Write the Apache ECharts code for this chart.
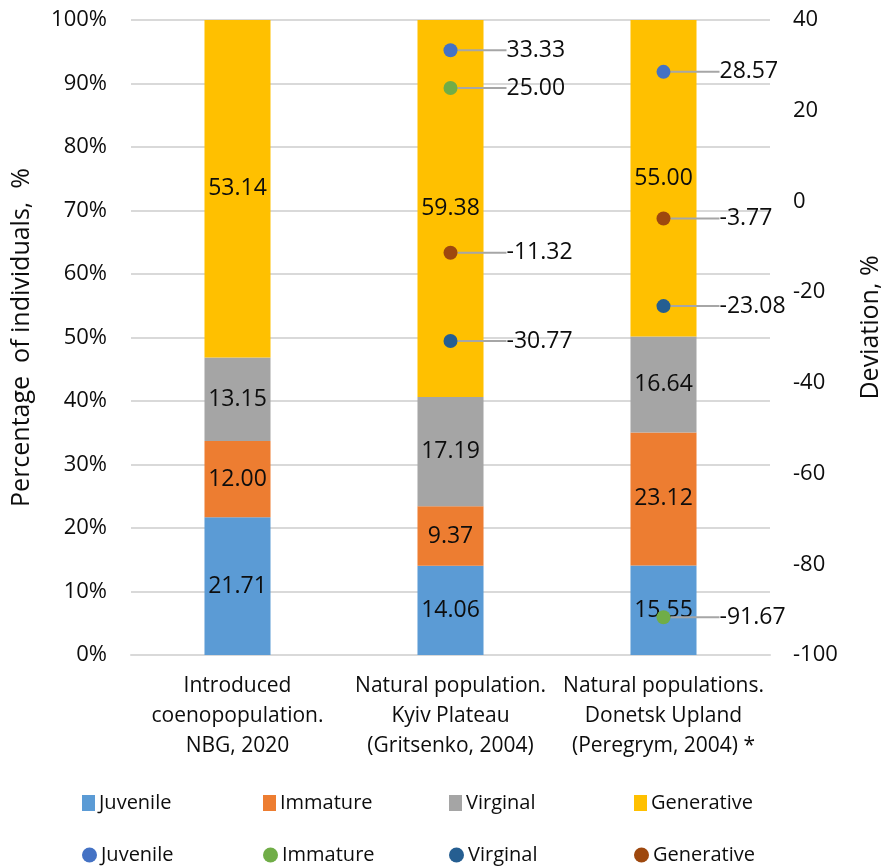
<!DOCTYPE html>
<html>
<head>
<meta charset="utf-8">
<script src="https://cdn.jsdelivr.net/npm/echarts@6/dist/echarts.min.js"></script>
<style>
  html, body { margin: 0; padding: 0; background: #ffffff; }
  #chart { width: 881px; height: 868px; }
</style>
</head>
<body>
<div id="chart"></div>
<script>
// Populations compared
const categories = [
  'Introduced\ncoenopopulation.\nNBG, 2020',
  'Natural population.\nKyiv Plateau\n(Gritsenko, 2004)',
  'Natural populations.\nDonetsk Upland\n(Peregrym, 2004) *'
];

// Age-state shares of individuals (stacked bars, left axis)
const juvenileShare   = [21.71, 14.06, 15.55];
const immatureShare   = [12.00,  9.37, 23.12];
const virginalShare   = [13.15, 17.19, 16.64];
const generativeShare = [53.14, 59.38, 55.00];

// Deviation from the introduced coenopopulation, % (points, right axis)
const juvenileDev   = [null,  33.33,  28.57];
const immatureDev   = [null,  25.00, -91.67];
const virginalDev   = [null, -30.77, -23.08];
const generativeDev = [null, -11.32,  -3.77];

const stateNames = ['Juvenile', 'Immature', 'Virginal', 'Generative'];
const barColors = ['#5B9BD5', '#ED7D31', '#A5A5A5', '#FFC000'];
const dotColors = ['#4472C4', '#70AD47', '#255E91', '#9E480E'];

const shares = [juvenileShare, immatureShare, virginalShare, generativeShare];
const devs = [juvenileDev, immatureDev, virginalDev, generativeDev];

// Each column is drawn as a 100% stack of its four shares
const totals = categories.map((_, i) => shares.reduce((s, arr) => s + arr[i], 0));

const FONT = '"Open Sans", "DejaVu Sans", sans-serif';
const TXT = '#0d0d0d';

const devName = n => n + ' deviation';

const barSeries = shares.map((arr, k) => ({
  name: stateNames[k],
  type: 'bar',
  stack: 'share',
  yAxisIndex: 0,
  barWidth: '31%',
  itemStyle: { color: barColors[k] },
  data: arr.map((v, i) => ({ value: v / totals[i] * 100, raw: v })),
  label: {
    show: true,
    position: 'inside',
    color: TXT,
    fontFamily: FONT,
    fontSize: 23,
    formatter: p => p.data.raw.toFixed(2)
  },
  z: 2
}));

const dotSeries = devs.map((arr, k) => ({
  name: devName(stateNames[k]),
  type: 'scatter',
  yAxisIndex: 1,
  symbol: 'circle',
  symbolSize: 14,
  itemStyle: { color: dotColors[k], opacity: 1 },
  data: arr.map((v, i) => (v === null ? null : [i, v])),
  label: {
    show: true,
    position: 'right',
    distance: 4,
    padding: [0, 0, 0, 6],
    color: TXT,
    fontFamily: FONT,
    fontSize: 23,
    formatter: p => p.value[1].toFixed(2)
  },
  labelLayout: { dx: 39 },
  labelLine: { show: true, lineStyle: { color: '#A6A6A6', width: 2 } },
  z: 5
}));

const legendX = [77, 258, 444, 629];
const legends = [];
stateNames.forEach((n, k) => {
  legends.push({
    data: [n], left: legendX[k], top: 788, itemWidth: 13, itemHeight: 16, itemGap: 0,
    icon: 'rect', selectedMode: false,
    textStyle: { fontFamily: FONT, fontSize: 20, color: TXT, padding: [0, 0, 0, -1] }
  });
  legends.push({
    data: [devName(n)], left: legendX[k], top: 840, itemWidth: 15, itemHeight: 15, itemGap: 0,
    icon: 'circle', selectedMode: false,
    formatter: () => n,
    textStyle: { fontFamily: FONT, fontSize: 20, color: TXT, padding: [0, 0, 0, -1] }
  });
});

const chart = echarts.init(document.getElementById('chart'), null, { renderer: 'canvas' });
chart.setOption({
  backgroundColor: '#ffffff',
  animation: false,
  textStyle: { fontFamily: FONT },
  grid: { left: 131, right: 111, top: 20, bottom: 213, containLabel: false, outerBoundsMode: 'none' },
  legend: legends,
  xAxis: {
    type: 'category',
    data: categories,
    axisTick: { show: false },
    axisLine: { show: true, lineStyle: { color: '#D9D9D9', width: 2 } },
    axisLabel: {
      color: TXT, fontFamily: FONT, fontSize: 21, lineHeight: 30, margin: 16, interval: 0
    }
  },
  yAxis: [
    {
      type: 'value', min: 0, max: 100, interval: 10,
      name: 'Percentage  of individuals,  %',
      nameLocation: 'middle', nameGap: 97,
      nameTextStyle: { color: TXT, fontFamily: FONT, fontSize: 25 },
      axisLine: { show: false }, axisTick: { show: false },
      axisLabel: { color: TXT, fontFamily: FONT, fontSize: 22, margin: 24, formatter: '{value}%' },
      splitLine: { lineStyle: { color: '#D9D9D9', width: 2 } }
    },
    {
      type: 'value', min: -100, max: 40, interval: 20, position: 'right',
      name: 'Deviation, %',
      nameLocation: 'middle', nameGap: 88,
      nameTextStyle: { color: TXT, fontFamily: FONT, fontSize: 25, padding: [0, 0, 0, 20] },
      axisLine: { show: false }, axisTick: { show: false },
      axisLabel: { color: TXT, fontFamily: FONT, fontSize: 22, margin: 23 },
      splitLine: { show: false }
    }
  ],
  series: barSeries.concat(dotSeries)
});
</script>
</body>
</html>
